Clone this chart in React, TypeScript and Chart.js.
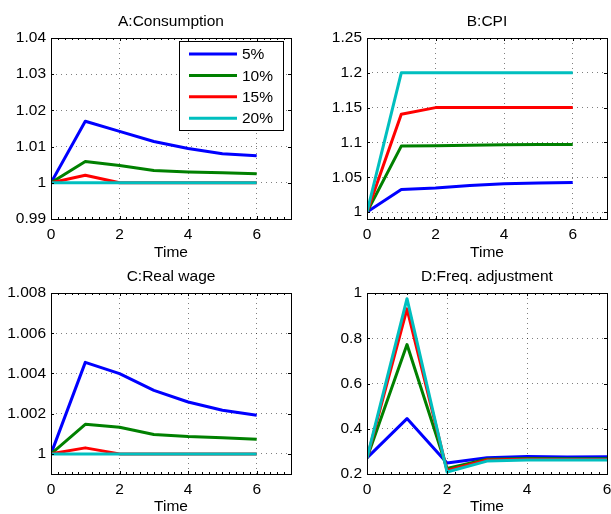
import React, { useEffect, useRef } from 'react';
import { Chart, registerables } from 'chart.js';

Chart.register(...registerables);

// Simulation periods and the four shock sizes
const periods = [0, 1, 2, 3, 4, 5, 6];
const seriesLabels = ['5%', '10%', '15%', '20%'];
const seriesColors = ['#0000ff', '#008000', '#ff0000', '#00bfbf'];

// A: Consumption
const consumption5 = [1, 1.017, 1.0142, 1.0114, 1.0095, 1.008, 1.0075];
const consumption10 = [1, 1.0059, 1.0048, 1.0034, 1.003, 1.0028, 1.0025];
const consumption15 = [1, 1.0021, 1, 1, 1, 1, 1];
const consumption20 = [1, 1, 1, 1, 1, 1, 1];

// B: CPI
const cpi5 = [1, 1.0325, 1.0344, 1.038, 1.0405, 1.0416, 1.0425];
const cpi10 = [1, 1.0947, 1.0951, 1.0961, 1.0966, 1.097, 1.097];
const cpi15 = [1, 1.1405, 1.15, 1.15, 1.15, 1.15, 1.15];
const cpi20 = [1, 1.2, 1.2, 1.2, 1.2, 1.2, 1.2];

// C: Real wage
const wage5 = [1, 1.00455, 1.00399, 1.00316, 1.00258, 1.00217, 1.00192];
const wage10 = [1, 1.00147, 1.00132, 1.00096, 1.00086, 1.0008, 1.00073];
const wage15 = [1, 1.0003, 1, 1, 1, 1, 1];
const wage20 = [1, 1, 1, 1, 1, 1, 1];

// D: Frequency of price adjustment
const freq5 = [0.271, 0.445, 0.249, 0.272, 0.277, 0.275, 0.276];
const freq10 = [0.271, 0.772, 0.224, 0.265, 0.268, 0.267, 0.267];
const freq15 = [0.271, 0.93, 0.216, 0.262, 0.265, 0.264, 0.264];
const freq20 = [0.271, 0.975, 0.209, 0.257, 0.262, 0.262, 0.262];

// Tick positions
const timeTicks = [0, 2, 4, 6];
const yTicksConsumption = [0.99, 1, 1.01, 1.02, 1.03, 1.04];
const yTicksCpi = [1, 1.05, 1.1, 1.15, 1.2, 1.25];
const yTicksWage = [1, 1.002, 1.004, 1.006, 1.008];
const yTicksFreq = [0.2, 0.4, 0.6, 0.8, 1];

const FONT = '"Liberation Sans", Arial, Helvetica, sans-serif';
const FONT_SIZE = 15.5;

type Box = { left: number; top: number; width: number; height: number };
type Area = { left: number; top: number; right: number; bottom: number };

type Panel = {
  title: string;
  series: number[][];
  xMax: number;
  yMin: number;
  yMax: number;
  yTicks: number[];
  legend: boolean;
  canvas: Box;
  plot: Area;
  timeLineHeight: number;
};

const panels: Panel[] = [
  {
    title: 'A:Consumption',
    series: [consumption5, consumption10, consumption15, consumption20],
    xMax: 7, yMin: 0.99, yMax: 1.04, yTicks: yTicksConsumption, legend: true,
    canvas: { left: 0, top: 0, width: 305, height: 262 },
    plot: { left: 51, top: 38, right: 291, bottom: 219 },
    timeLineHeight: 1.2,
  },
  {
    title: 'B:CPI',
    series: [cpi5, cpi10, cpi15, cpi20],
    xMax: 7, yMin: 0.99, yMax: 1.25, yTicks: yTicksCpi, legend: false,
    canvas: { left: 305, top: 0, width: 316, height: 262 },
    plot: { left: 367, top: 38, right: 607, bottom: 219 },
    timeLineHeight: 1.2,
  },
  {
    title: 'C:Real wage',
    series: [wage5, wage10, wage15, wage20],
    xMax: 7, yMin: 0.999, yMax: 1.008, yTicks: yTicksWage, legend: false,
    canvas: { left: 0, top: 262, width: 305, height: 252 },
    plot: { left: 51, top: 293, right: 291, bottom: 474 },
    timeLineHeight: 1.0,
  },
  {
    title: 'D:Freq. adjustment',
    series: [freq5, freq10, freq15, freq20],
    xMax: 6, yMin: 0.2, yMax: 1, yTicks: yTicksFreq, legend: false,
    canvas: { left: 305, top: 262, width: 316, height: 252 },
    plot: { left: 367, top: 293, right: 607, bottom: 474 },
    timeLineHeight: 1.0,
  },
];

// Boxed axes with inward ticks, minor time ticks and an optional inset legend
const framePlugin = {
  id: 'frame',
  afterDraw(chart: any, _args: any, opts: any) {
    const { ctx, chartArea: a } = chart;
    const x = chart.scales.x;
    const y = chart.scales.y;
    ctx.save();
    ctx.strokeStyle = '#000';
    ctx.lineWidth = 1;
    ctx.setLineDash([]);
    ctx.beginPath();
    const step = opts.minorStep as number;
    const n = Math.round((x.max - x.min) / step);
    for (let i = 1; i < n; i++) {
      const px = Math.round(x.getPixelForValue(x.min + i * step)) + 0.5;
      ctx.moveTo(px, a.bottom);
      ctx.lineTo(px, a.bottom - 2);
      ctx.moveTo(px, a.top);
      ctx.lineTo(px, a.top + 2);
    }
    x.ticks.forEach((t: any) => {
      const px = Math.round(x.getPixelForValue(t.value)) + 0.5;
      ctx.moveTo(px, a.bottom);
      ctx.lineTo(px, a.bottom - 3);
      ctx.moveTo(px, a.top);
      ctx.lineTo(px, a.top + 3);
    });
    y.ticks.forEach((t: any) => {
      const py = Math.round(y.getPixelForValue(t.value)) + 0.5;
      ctx.moveTo(a.left, py);
      ctx.lineTo(a.left + 3, py);
      ctx.moveTo(a.right, py);
      ctx.lineTo(a.right - 3, py);
    });
    ctx.stroke();
    ctx.strokeRect(a.left + 0.5, a.top + 0.5, a.right - a.left, a.bottom - a.top);

    if (opts.legend) {
      const bx = a.right - 112;
      const by = a.top + 3;
      const bw = 104;
      const bh = 89;
      ctx.fillStyle = '#fff';
      ctx.fillRect(bx, by, bw, bh);
      ctx.strokeRect(bx + 0.5, by + 0.5, bw, bh);
      ctx.font = `${FONT_SIZE}px ${FONT}`;
      ctx.textBaseline = 'middle';
      ctx.textAlign = 'left';
      chart.data.datasets.forEach((ds: any, i: number) => {
        const ry = by + 13 + i * 21.4;
        ctx.strokeStyle = ds.borderColor;
        ctx.lineWidth = 3;
        ctx.beginPath();
        ctx.moveTo(bx + 10, ry);
        ctx.lineTo(bx + 58, ry);
        ctx.stroke();
        ctx.fillStyle = '#000';
        ctx.fillText(ds.label, bx + 63, ry + 1);
      });
    }
    ctx.restore();
  },
};

function buildConfig(p: Panel): any {
  const canvasRight = p.canvas.left + p.canvas.width;
  const canvasBottom = p.canvas.top + p.canvas.height;
  const titleBlock = p.plot.top - p.canvas.top;
  const lineHeight = FONT_SIZE * 1.2;
  const gridColor = 'rgba(0,0,0,0.5)';
  return {
    type: 'line',
    data: {
      datasets: p.series.map((values, i) => ({
        label: seriesLabels[i],
        data: periods.map((t, k) => ({ x: t, y: values[k] })),
        borderColor: seriesColors[i],
        backgroundColor: seriesColors[i],
        borderWidth: 3,
        borderJoinStyle: 'round',
        pointRadius: 0,
        tension: 0,
        fill: false,
        order: p.series.length - 1 - i,
      })),
    },
    options: {
      animation: false,
      responsive: false,
      devicePixelRatio: 1,
      events: [],
      color: '#000',
      font: { family: FONT, size: FONT_SIZE },
      layout: {
        padding: { left: 0, top: 0, right: canvasRight - p.plot.right, bottom: 0 },
      },
      plugins: {
        legend: { display: false },
        tooltip: { enabled: false },
        title: {
          display: true,
          fullSize: false,
          text: p.title,
          color: '#000',
          font: { family: FONT, size: FONT_SIZE, weight: 'normal', lineHeight: 1.2 },
          padding: { top: titleBlock - lineHeight - 7, bottom: 7 },
        },
        frame: { minorStep: 0.2, legend: p.legend },
      },
      scales: {
        x: {
          type: 'linear',
          min: 0,
          max: p.xMax,
          afterBuildTicks: (s: any) => {
            s.ticks = timeTicks.map((v) => ({ value: v }));
          },
          afterFit: (s: any) => {
            s.height = canvasBottom - p.plot.bottom;
          },
          grid: { color: gridColor, lineWidth: 1, drawTicks: false },
          border: { display: false, dash: [1, 4] },
          ticks: {
            color: '#000',
            font: { family: FONT, size: FONT_SIZE },
            padding: 6,
            autoSkip: false,
            maxRotation: 0,
            callback: (v: number) => String(v),
          },
          title: {
            display: true,
            text: 'Time',
            color: '#000',
            font: { family: FONT, size: FONT_SIZE, lineHeight: p.timeLineHeight },
            padding: { top: 0, bottom: 0 },
          },
        },
        y: {
          type: 'linear',
          min: p.yMin,
          max: p.yMax,
          afterBuildTicks: (s: any) => {
            s.ticks = p.yTicks.map((v) => ({ value: v }));
          },
          afterFit: (s: any) => {
            s.width = p.plot.left - p.canvas.left;
          },
          grid: { color: gridColor, lineWidth: 1, drawTicks: false },
          border: { display: false, dash: [1, 4] },
          ticks: {
            color: '#000',
            font: { family: FONT, size: FONT_SIZE },
            padding: 5,
            autoSkip: false,
            callback: (v: number) => String(v),
          },
        },
      },
    },
    plugins: [framePlugin],
  };
}

function PanelChart({ panel }: { panel: Panel }) {
  const ref = useRef<HTMLCanvasElement>(null);
  useEffect(() => {
    const chart = new Chart(ref.current as HTMLCanvasElement, buildConfig(panel));
    return () => chart.destroy();
  }, [panel]);
  return (
    <canvas
      ref={ref}
      width={panel.canvas.width}
      height={panel.canvas.height}
      style={{
        position: 'absolute',
        left: panel.canvas.left,
        top: panel.canvas.top,
        width: panel.canvas.width,
        height: panel.canvas.height,
      }}
    />
  );
}

export default function App() {
  return (
    <div
      style={{
        position: 'fixed',
        left: 0,
        top: 0,
        width: 611,
        height: 514,
        overflow: 'hidden',
        background: '#fff',
      }}
    >
      {panels.map((p) => (
        <PanelChart key={p.title} panel={p} />
      ))}
    </div>
  );
}
